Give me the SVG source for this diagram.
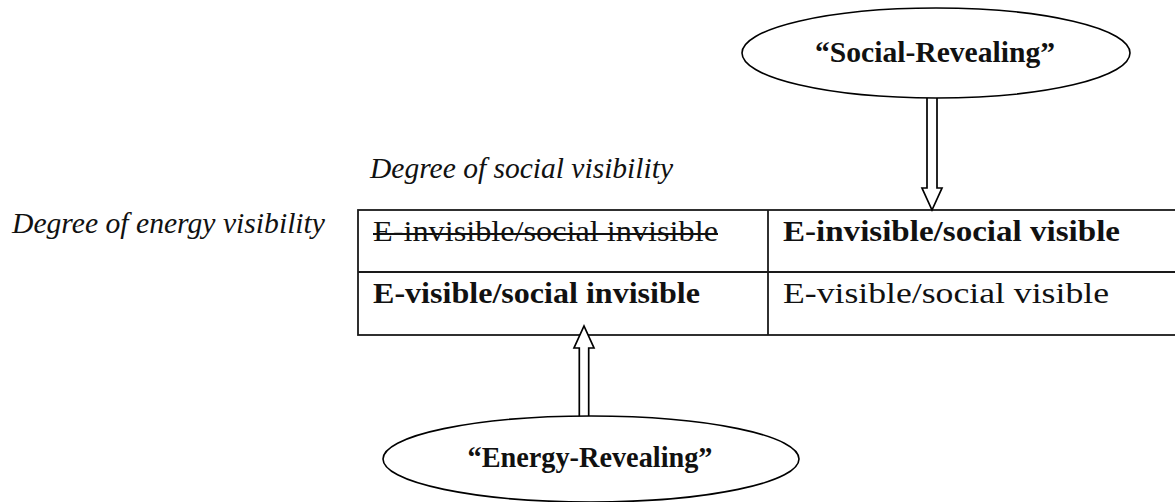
<svg xmlns="http://www.w3.org/2000/svg" width="1175" height="502" viewBox="0 0 1175 502">
  <style>
    .bg { fill: #ffffff; }
    .line { stroke: #1a1a1a; stroke-width: 1.8; fill: none; }
    .node { fill: #ffffff; stroke: #000000; stroke-width: 1.6; }
    .arrow { fill: #ffffff; stroke: #000000; stroke-width: 1.7; stroke-linejoin: miter; }
    .t { font-family: "Liberation Serif", "DejaVu Serif", serif; font-size: 29px; fill: #111111; }
    .b { font-weight: bold; }
    .i { font-style: italic; }
    .lbl { font-size: 30px; }
  </style>
  <rect class="bg" x="0" y="0" width="1175" height="502"/>

  <!-- axis captions -->
  <text class="t i" x="370" y="178" textLength="303" lengthAdjust="spacingAndGlyphs">Degree of social visibility</text>
  <text class="t i" x="12" y="233" textLength="313" lengthAdjust="spacingAndGlyphs">Degree of energy visibility</text>

  <!-- 2x2 visibility matrix -->
  <g id="matrix">
    <rect class="line" x="358" y="210" width="830" height="125"/>
    <line class="line" x1="358" y1="272" x2="1175" y2="272"/>
    <line class="line" x1="768" y1="210" x2="768" y2="335"/>
  </g>
  <g id="cell-e-invisible-social-invisible">
    <text class="t" x="373" y="241" textLength="345" lengthAdjust="spacingAndGlyphs">E-invisible/social invisible</text>
    <line x1="373" y1="234" x2="718" y2="234" stroke="#111111" stroke-width="1.8"/>
  </g>
  <g id="cell-e-invisible-social-visible">
    <text class="t b" x="783" y="241" textLength="337" lengthAdjust="spacingAndGlyphs">E-invisible/social visible</text>
  </g>
  <g id="cell-e-visible-social-invisible">
    <text class="t b" x="373" y="303" textLength="327" lengthAdjust="spacingAndGlyphs">E-visible/social invisible</text>
  </g>
  <g id="cell-e-visible-social-visible">
    <text class="t" x="783" y="303" textLength="326" lengthAdjust="spacingAndGlyphs">E-visible/social visible</text>
  </g>

  <!-- hollow arrows -->
  <g id="connectors">
    <path class="arrow" d="M927,96 L927,188 L922,188 L932,210 L942,188 L937,188 L937,96"/>
    <path class="arrow" d="M579.3,420 L579.3,348 L574,348 L584,326 L594,348 L588.7,348 L588.7,420"/>
  </g>

  <g id="social-revealing">
    <ellipse class="node" cx="936" cy="53" rx="194" ry="45"/>
    <text class="t b lbl" x="935" y="62" text-anchor="middle" textLength="240" lengthAdjust="spacingAndGlyphs">“Social-Revealing”</text>
  </g>
  <g id="energy-revealing">
    <ellipse class="node" cx="591" cy="459" rx="208" ry="43"/>
    <text class="t b lbl" x="590" y="467" text-anchor="middle" textLength="245" lengthAdjust="spacingAndGlyphs">“Energy-Revealing”</text>
  </g>
</svg>
